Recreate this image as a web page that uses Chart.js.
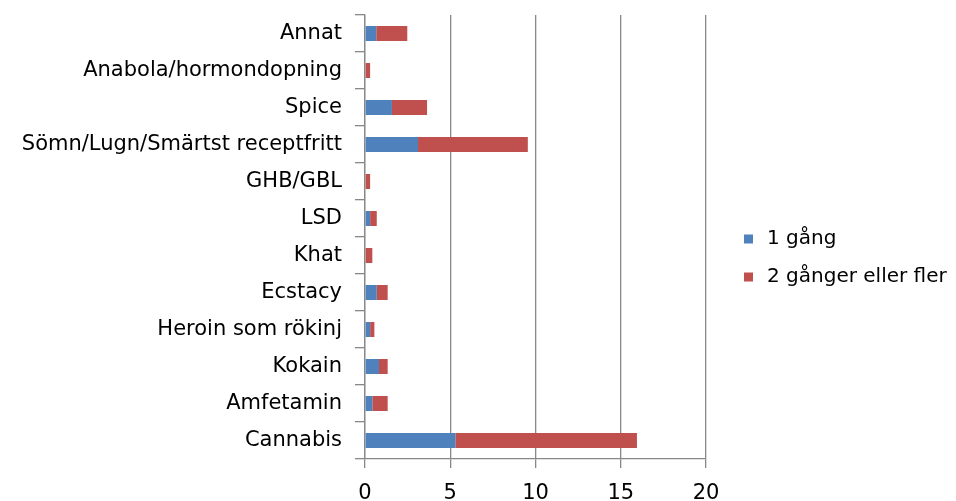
<!DOCTYPE html>
<html>
<head>
<meta charset="utf-8">
<script src="https://cdn.jsdelivr.net/npm/chart.js@4/dist/chart.umd.min.js"></script>
<style>
  html, body { margin: 0; padding: 0; background: #ffffff; }
  #wrap { width: 956px; height: 501px; }
</style>
</head>
<body>
<div id="wrap"><canvas id="c" width="956" height="501"></canvas></div>
<script>
// ---- data (top to bottom as shown) ----
const categories = [
  'Annat',
  'Anabola/hormondopning',
  'Spice',
  'Sömn/Lugn/Smärtst receptfritt',
  'GHB/GBL',
  'LSD',
  'Khat',
  'Ecstacy',
  'Heroin som rökinj',
  'Kokain',
  'Amfetamin',
  'Cannabis'
];
const seriesNames = ['1 gång', '2 gånger eller fler'];
const onceValues  = [0.66, 0, 1.58, 3.11, 0, 0.30, 0, 0.69, 0.30, 0.82, 0.43, 5.30];
const moreValues  = [1.82, 0.30, 2.06, 6.44, 0.30, 0.39, 0.43, 0.64, 0.25, 0.51, 0.90, 10.65];
const xTicks = [0, 5, 10, 15, 20];

const FONT = 'DejaVu Sans';

const sideLegend = {
  id: 'sideLegend',
  afterDraw(chart, args, opts) {
    const ctx = chart.ctx;
    ctx.save();
    ctx.font = opts.fontSize + 'px "' + FONT + '"';
    ctx.textBaseline = 'middle';
    ctx.textAlign = 'left';
    chart.data.datasets.forEach((ds, i) => {
      const cy = opts.y + i * opts.gap;
      ctx.fillStyle = ds.backgroundColor;
      ctx.fillRect(opts.x, cy - opts.box / 2, opts.box, opts.box);
      ctx.fillStyle = '#000000';
      ctx.fillText(ds.label, opts.x + opts.textOffset, cy);
    });
    ctx.restore();
  }
};

new Chart(document.getElementById('c'), {
  type: 'bar',
  data: {
    labels: categories,
    datasets: [
      { label: seriesNames[0], data: onceValues, backgroundColor: '#4F81BD' },
      { label: seriesNames[1], data: moreValues, backgroundColor: '#C0504D' }
    ]
  },
  options: {
    indexAxis: 'y',
    responsive: false,
    animation: false,
    layout: { padding: { left: 0, right: 250, top: 15, bottom: 0 } },
    datasets: { bar: { barPercentage: 0.405, categoryPercentage: 1.0 } },
    plugins: {
      legend: { display: false },
      tooltip: { enabled: false },
      sideLegend: { x: 744, y: 239, gap: 38, box: 9, textOffset: 23, fontSize: 20 }
    },
    scales: {
      x: {
        stacked: true,
        min: 0, max: 20,
        afterBuildTicks: (s) => { s.ticks = xTicks.map(v => ({ value: v })); },
        afterFit: (s) => { s.height = 42; s.paddingLeft = 0; s.paddingRight = 0; },
        ticks: { color: '#000000', font: { family: FONT, size: 21 }, padding: 13 },
        grid: { color: '#888888', lineWidth: 1.3, tickLength: 9, drawTicks: true },
        border: { display: true, color: '#888888', width: 1.3 }
      },
      y: {
        stacked: true,
        afterFit: (s) => { s.width = 365; s.paddingTop = 0; s.paddingBottom = 0; },
        ticks: { color: '#000000', font: { family: FONT, size: 21 }, padding: 13, autoSkip: false },
        grid: { drawOnChartArea: false, drawTicks: true, tickLength: 10, color: '#888888', lineWidth: 1.3, offset: true },
        border: { display: true, color: '#888888', width: 1.3 }
      }
    }
  },
  plugins: [sideLegend]
});
</script>
</body>
</html>
